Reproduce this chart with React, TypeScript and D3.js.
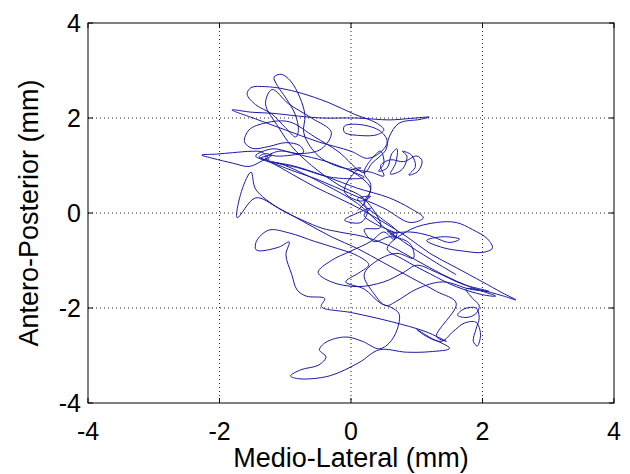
import React from "react";
import * as d3 from "d3";

type P = [number, number];

const xTicks = [-4, -2, 0, 2, 4];
const yTicks = [-4, -2, 0, 2, 4];
const xLabel = "Medio-Lateral (mm)";
const yLabel = "Antero-Posterior (mm)";

// Centre-of-pressure trajectory in mm, split into consecutive pieces
const segA: P[] = [[0.10,0.05],[0.25,0.30],[0.3,0.6],[0.2,0.85],[0.32,1.15],[0.45,1.3],[0.5,1.05],[0.42,0.88],[0.55,0.95],[0.62,1.25],[0.7,1.35],[0.68,1.05],[0.6,0.82],[0.78,0.92],[0.85,1.2],[0.78,1.3],[0.92,1.22],[0.98,0.98],[0.88,0.8],[1.02,0.88],[1.08,1.1],[1.0,1.2],[0.8,1.08],[0.6,1.12],[0.45,1.0],[0.5,0.78],[0.3,0.86],[0.0,0.92],[-0.2,0.98]];
const segB: P[] = [[-0.45,1.15],[-0.62,1.4],[-0.72,1.7],[-0.7,2.06],[-0.78,2.44],[-0.92,2.78],[-1.06,2.92],[-1.17,2.86],[-1.12,2.68],[-0.99,2.42],[-0.85,2.08],[-0.8,1.74],[-0.84,1.6],[-1.0,1.8],[-1.2,2.08],[-1.45,2.28],[-1.58,2.5],[-1.52,2.64],[-1.3,2.66],[-1.05,2.62],[-0.75,2.52],[-0.35,2.33],[0.05,2.08],[0.38,1.9],[0.5,1.75],[0.4,1.65],[0.15,1.63],[-0.1,1.7],[-0.1,1.83],[0.15,1.86],[0.45,1.72],[0.55,1.5],[0.45,1.28],[0.25,1.15]];
const segC: P[] = [[0.0,1.3],[-0.5,1.5],[-1.0,1.75],[-1.45,1.98],[-1.81,2.17],[-1.5,2.12],[-1.2,2.1],[-0.8,2.04],[-0.44,2.0],[0.08,2.0],[0.58,1.96],[0.9,1.99],[1.19,2.02],[1.05,1.97],[0.73,1.89],[0.58,1.6],[0.53,1.33],[0.43,1.18],[0.32,1.05],[0.2,0.85]];
const segD: P[] = [[-0.2,1.3],[-0.55,1.6],[-0.94,1.92],[-1.29,1.9],[-1.55,1.75],[-1.62,1.5],[-1.5,1.36],[-1.25,1.4],[-1.0,1.48],[-0.78,1.42],[-0.72,1.28]];
const segE: P[] = [[-0.9,1.22],[-1.15,1.2],[-1.3,1.25],[-1.4,1.18],[-1.25,1.12],[-1.35,1.28],[-1.5,1.3],[-1.8,1.27],[-2.05,1.24],[-2.27,1.22],[-2.1,1.15],[-1.8,1.05],[-1.55,0.98],[-1.35,1.1],[-1.2,1.22],[-1.38,1.15],[-1.2,1.05]];
const segF: P[] = [[-0.9,0.82],[-0.55,0.55],[-0.2,0.32],[0.15,0.08],[0.5,-0.2],[0.85,-0.5],[1.2,-0.85],[1.6,-1.15],[2.0,-1.45],[2.3,-1.68],[2.51,-1.83],[2.3,-1.74],[1.95,-1.62],[1.75,-1.6]];
const segG: P[] = [[1.85,-1.8],[1.95,-1.95],[1.9,-2.12],[1.75,-2.2],[1.62,-2.15],[1.72,-2.02],[1.9,-2.0],[1.95,-2.2],[1.9,-2.45],[1.86,-2.7],[1.92,-2.8],[1.97,-2.55],[1.9,-2.3],[1.72,-2.32],[1.55,-2.5],[1.38,-2.7],[1.15,-2.6],[1.0,-2.45],[1.2,-2.62],[1.5,-2.85],[1.2,-2.92],[0.84,-2.93],[0.43,-2.88]];
const segH: P[] = [[0.12,-3.15],[-0.33,-3.43],[-0.79,-3.49],[-0.92,-3.43],[-0.76,-3.3],[-0.49,-3.2],[-0.38,-3.03],[-0.48,-2.88],[-0.38,-2.72],[-0.08,-2.61],[0.17,-2.7],[0.43,-2.86],[0.58,-2.74],[0.7,-2.46],[0.73,-2.12],[0.6,-1.98],[0.45,-1.9]];
const segI: P[] = [[0.2,-1.6],[-0.08,-1.45],[0.12,-1.26],[0.27,-1.09],[0.1,-0.9],[-0.2,-0.75],[-0.55,-0.6],[-0.94,-0.42],[-1.25,-0.36],[-1.44,-0.6],[-1.44,-0.78],[-1.1,-0.72],[-0.94,-0.61],[-0.99,-0.88],[-0.9,-1.3],[-0.82,-1.62],[-0.68,-1.75],[-0.4,-1.8],[-0.45,-1.97],[0.02,-2.1],[0.62,-2.29],[1.14,-2.5],[1.45,-2.7],[1.3,-2.6]];
const segJ: P[] = [[1.6,-1.9],[1.3,-1.65],[0.9,-1.35],[0.5,-1.05],[0.1,-0.75],[-0.3,-0.5],[-0.7,-0.2],[-1.1,0.1],[-1.45,0.32],[-1.73,-0.1],[-1.66,0.48],[-1.52,0.86],[-1.45,0.5]];
const segK: P[] = [[-1.1,0.1],[-0.74,-0.15],[-0.44,-0.32],[-0.18,-0.4],[0.2,-0.5],[0.6,-0.7],[1.0,-1.0],[1.4,-1.3],[1.8,-1.55],[2.2,-1.75],[2.0,-1.72],[1.6,-1.55],[1.2,-1.28],[0.8,-0.98],[0.55,-0.75]];
const segL: P[] = [[0.9,-0.35],[1.3,-0.2],[1.6,-0.2],[1.85,-0.35],[2.08,-0.55],[2.15,-0.74],[2.0,-0.83],[1.7,-0.8],[1.4,-0.73],[1.15,-0.58],[1.4,-0.5],[1.65,-0.55],[1.5,-0.62],[1.2,-0.48],[0.9,-0.4],[0.6,-0.45],[0.7,-0.52],[0.55,-0.38],[0.68,-0.42]];
const segM: P[] = [[0.4,-0.25],[0.2,-0.05],[0.3,0.1],[0.1,0.0],[-0.1,-0.15],[0.15,-0.2],[0.25,0.05],[0.1,0.3],[0.3,0.35],[0.15,0.25],[-0.1,0.45],[0.05,0.85],[0.15,0.95],[0.0,0.9],[0.2,0.75]];
const segN: P[] = [[-0.3,0.75],[-0.8,0.95],[-1.2,1.07],[-0.9,1.0],[-0.44,0.8],[0.08,0.53],[0.58,0.32],[0.9,0.1],[1.1,-0.1],[0.9,-0.2]];
const segP: P[] = [[0.5,0.1],[0.0,0.4],[-0.5,0.7],[-1.0,0.95],[-1.3,1.15],[-1.1,1.3],[-0.7,1.2],[-0.3,1.05],[0.1,0.8],[0.3,0.5],[0.2,0.2],[0.45,-0.1],[0.7,-0.4],[0.65,-0.55],[0.5,-0.4]];
const segQ: P[] = [[0.3,-0.6],[0.0,-0.8],[-0.3,-1.0],[-0.5,-1.25],[-0.3,-1.45],[0.1,-1.55],[0.5,-1.45],[0.8,-1.25],[1.0,-1.1],[1.3,-1.25],[1.7,-1.5],[2.1,-1.65],[1.8,-1.6]];
const segR: P[] = [[1.4,-1.45],[1.0,-1.6],[0.7,-1.85],[0.53,-1.95],[0.35,-1.7],[0.2,-1.3],[0.4,-1.0],[0.7,-0.85],[0.95,-0.95],[0.9,-0.65],[0.6,-0.5],[0.35,-0.6],[0.2,-0.35],[0.45,-0.3]];
const segS: P[] = [[0.2,0.3],[-0.2,0.6],[-0.6,1.0],[-0.9,1.4],[-1.1,1.8],[-1.3,2.3],[-1.2,2.6],[-0.95,2.3],[-0.6,2.0],[-0.3,1.7],[-0.45,1.35],[-0.8,1.25],[-1.2,1.35],[-1.45,1.2]];
const segO: P[] = [[-1.0,1.0],[-0.4,0.6],[0.1,0.2],[0.5,-0.3],[0.9,-0.7],[1.3,-1.05],[1.6,-1.3]];

const trajectory: P[] = [
  ...segA, ...segB, ...segC, ...segD, ...segE, ...segF, ...segG, ...segH, ...segI,
  ...segJ, ...segK, ...segL, ...segM, ...segN, ...segP, ...segQ, ...segR, ...segS, ...segO,
];

const W = 630;
const H = 474;
const left = 88, right = 614, top = 23, bottom = 403;
const FONT = "'Liberation Sans', Arial, sans-serif";

export default function App() {
  const x = d3.scaleLinear().domain([-4, 4]).range([left, right]);
  const y = d3.scaleLinear().domain([-4, 4]).range([bottom, top]);
  const line = d3
    .line<P>()
    .x((d) => x(d[0]))
    .y((d) => y(d[1]))
    .curve(d3.curveCatmullRom.alpha(0.5));
  const tl = 5;
  return (
    <svg width={W} height={H} style={{ position: "absolute", left: 0, top: 0, background: "#fff" }}>
      <rect x={0} y={0} width={W} height={H} fill="#fff" />
      {xTicks.slice(1, -1).map((t) => (
        <line key={"gx" + t} x1={x(t)} x2={x(t)} y1={top} y2={bottom} stroke="#222" strokeWidth={1} strokeDasharray="1,3" />
      ))}
      {yTicks.slice(1, -1).map((t) => (
        <line key={"gy" + t} x1={left} x2={right} y1={y(t)} y2={y(t)} stroke="#222" strokeWidth={1} strokeDasharray="1,3" />
      ))}
      <path d={line(trajectory) || ""} fill="none" stroke="#1a1aa8" strokeWidth={1} strokeLinejoin="round" />
      <rect x={left} y={top} width={right - left} height={bottom - top} fill="none" stroke="#000" strokeWidth={1} />
      {xTicks.map((t) => (
        <g key={"tx" + t}>
          <line x1={x(t)} x2={x(t)} y1={bottom} y2={bottom - tl} stroke="#000" />
          <line x1={x(t)} x2={x(t)} y1={top} y2={top + tl} stroke="#000" />
          <text x={x(t)} y={440} textAnchor="middle" fontFamily={FONT} fontSize={25} fill="#000">
            {t}
          </text>
        </g>
      ))}
      {yTicks.map((t) => (
        <g key={"ty" + t}>
          <line x1={left} x2={left + tl} y1={y(t)} y2={y(t)} stroke="#000" />
          <line x1={right} x2={right - tl} y1={y(t)} y2={y(t)} stroke="#000" />
          <text x={81} y={y(t)} dy="0.36em" textAnchor="end" fontFamily={FONT} fontSize={25} fill="#000">
            {t}
          </text>
        </g>
      ))}
      <text x={(left + right) / 2} y={467} textAnchor="middle" fontFamily={FONT} fontSize={27} fill="#000">
        {xLabel}
      </text>
      <text
        transform={`translate(38, ${(top + bottom) / 2}) rotate(-90)`}
        textAnchor="middle"
        fontFamily={FONT}
        fontSize={27}
        fill="#000"
      >
        {yLabel}
      </text>
    </svg>
  );
}
